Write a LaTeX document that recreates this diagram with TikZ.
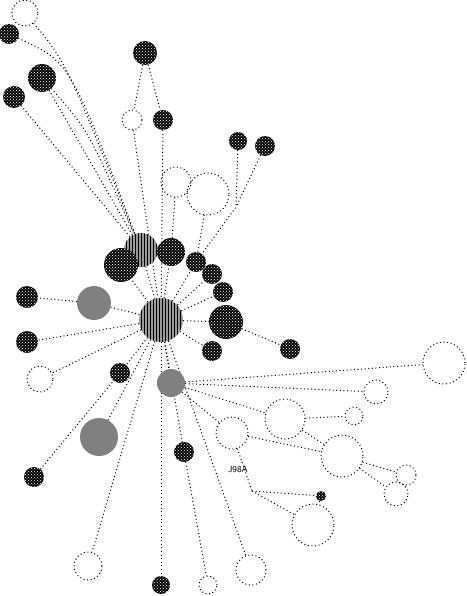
\documentclass[tikz,border=0pt]{standalone}
\usetikzlibrary{patterns,backgrounds}
\begin{document}
\begin{tikzpicture}[x=1pt,y=-1pt,
  edge/.style={line width=1pt, dash pattern=on 1pt off 2.6pt},
  blk/.style={circle, inner sep=0pt, fill=black, postaction={pattern=crosshatch dots, pattern color=white}},
  gry/.style={circle, inner sep=0pt, fill=black!50},
  str/.style={circle, inner sep=0pt, fill=black!40, postaction={pattern=vertical lines}},
  emp/.style={circle, inner sep=0pt, draw, line width=1pt, dash pattern=on 1pt off 2.6pt}]
\useasboundingbox (0,0) rectangle (466,596);
% empty nodes
\node[emp, minimum size=26] (E1) at (25,13) {};
\node[emp, minimum size=20] (E2) at (132,120) {};
\node[emp, minimum size=30] (E3) at (176,182) {};
\node[emp, minimum size=42] (E4) at (208,194) {};
\node[emp, minimum size=26] (E5) at (40,379) {};
\node[emp, minimum size=42] (E6) at (444,363) {};
\node[emp, minimum size=24] (E7) at (376,392) {};
\node[emp, minimum size=40] (E8) at (285,419) {};
\node[emp, minimum size=32] (E9) at (232,433) {};
\node[emp, minimum size=42] (E10) at (342,456) {};
\node[emp, minimum size=20] (E11a) at (406,475) {};
\node[emp, minimum size=24] (E11b) at (396,494) {};
\node[emp, minimum size=42] (E12) at (313,525) {};
\node[emp, minimum size=18] (E13) at (354,416) {};
\node[emp, minimum size=30] (E15) at (251,570) {};
\node[emp, minimum size=18] (E16) at (208,585) {};
\node[emp, minimum size=28] (E17) at (88,566) {};
% grey / striped
\node[str, minimum size=34] (G1) at (141,250) {};
\node[str, minimum size=44] (C) at (161,320) {};
\node[gry, minimum size=34] (G2) at (94,303) {};
\node[gry, minimum size=28] (G3) at (171,383) {};
\node[gry, minimum size=38] (G4) at (99,437) {};
% black
\node[blk, minimum size=20] (n1) at (9,34) {};
\node[blk, minimum size=28] (n2) at (42,78) {};
\node[blk, minimum size=22] (n3) at (14,97) {};
\node[blk, minimum size=24] (n4) at (145,53) {};
\node[blk, minimum size=20] (n5) at (163,120) {};
\node[blk, minimum size=18] (n6) at (238,141) {};
\node[blk, minimum size=20] (n7) at (265,146) {};
\node[blk, minimum size=34] (n8) at (121,265) {};
\node[blk, minimum size=28] (n9) at (171,252) {};
\node[blk, minimum size=20] (n10) at (196,262) {};
\node[blk, minimum size=20] (n11) at (212,274) {};
\node[blk, minimum size=20] (n12) at (223,292) {};
\node[blk, minimum size=34] (n13) at (226,322) {};
\node[blk, minimum size=20] (n14) at (212,351) {};
\node[blk, minimum size=20] (n15) at (290,349) {};
\node[blk, minimum size=22] (n16) at (27,297) {};
\node[blk, minimum size=22] (n17) at (27,342) {};
\node[blk, minimum size=20] (n18) at (120,373) {};
\node[blk, minimum size=20] (n19) at (184,452) {};
\node[blk, minimum size=20] (n20) at (34,477) {};
\node[blk, minimum size=18] (n21) at (161,585) {};
\node[blk, minimum size=10] (n22) at (321,496) {};
\node[font=\fontsize{9}{9}\selectfont\sffamily, inner sep=0pt] (t) at (238,469) {J98A};
\coordinate (lab) at (252,491);
\coordinate (j1) at (236,207);
\begin{pgfonlayer}{background}
\draw[edge] (E1) .. controls (66,62) .. (G1);
\draw[edge] (n1) .. controls (70,62) .. (G1);
\draw[edge] (n2) -- (G1);
\draw[edge] (n2) .. controls (88,130) .. (G1);
\draw[edge] (n3) -- (G1);
\draw[edge] (n4) -- (E2);
\draw[edge] (n4) -- (n5);
\draw[edge] (E2) -- (C);
\draw[edge] (n5) -- (C);
\draw[edge] (E3) -- (n9);
\draw[edge] (E4) -- (n10);
\draw[edge] (n6) -- (j1) -- (n10);
\draw[edge] (n7) -- (j1);
\foreach \t in {G1,n8,n9,n10,n11,n12,n13,n14,G2,n17,E5,n18,G3,G4,n19,n21,E17,E15}
  \draw[edge] (C) -- (\t);
\draw[edge] (G2) -- (n16);
\draw[edge] (n20) -- (n18);
\draw[edge] (n19) -- (E16);
\draw[edge] (n13) -- (n15);
\draw[edge] (G3) -- (E6);
\draw[edge] (G3) -- (E7);
\draw[edge] (G3) -- (E8);
\draw[edge] (G3) -- (E9);
\draw[edge] (E8) -- (E13);
\draw[edge] (E8) -- (E10);
\draw[edge] (E9) -- (E10);
\draw[edge] (E10) -- (E11a);
\draw[edge] (E10) -- (E11b);
\draw[edge] (E9) -- (lab);
\draw[edge] (lab) -- (n22);
\draw[edge] (lab) -- (E12);
\draw[edge] (n22) -- (E12);
\end{pgfonlayer}
\end{tikzpicture}
\end{document}
